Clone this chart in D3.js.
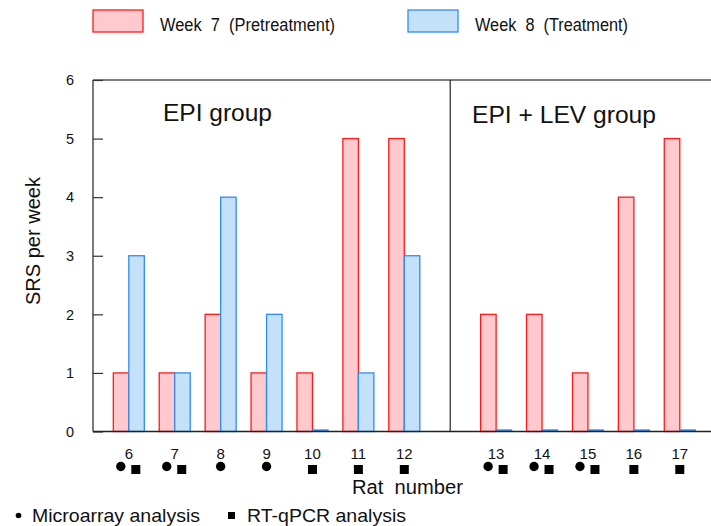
<!DOCTYPE html>
<html>
<head>
<meta charset="utf-8">
<script src="https://cdn.jsdelivr.net/npm/d3@7"></script>
<style>
  body { margin: 0; background: #fff; }
  svg { display: block; font-family: Arial, "Liberation Sans", sans-serif; }
  text { white-space: pre; }
</style>
</head>
<body>
<div id="chart"></div>
<script>
// SRS per week, pretreatment vs treatment, per rat

const rats = [6, 7, 8, 9, 10, 11, 12, null, 13, 14, 15, 16, 17]; // null = gap between groups
const week7 = [1, 1, 2, 1, 1, 5, 5, null, 2, 2, 1, 4, 5];
const week8 = [3, 1, 4, 2, 0, 1, 3, null, 0, 0, 0, 0, 0];
const microarrayRats = [6, 7, 8, 9, 13, 14, 15];
const qpcrRats = [6, 7, 10, 11, 12, 13, 14, 15, 16, 17];
const yTicks = [0, 1, 2, 3, 4, 5, 6];

const w = 711, h = 526;
const m = {top: 80, left: 93, right: 711, bottom: 431.5};
const red = '#ff1a1a', pink = '#ffc9cd', blue = '#2e8cf5', lightBlue = '#c5e1fa';

const svg = d3.select('#chart').append('svg')
  .attr('width', w).attr('height', h);

const x = d3.scaleLinear().domain([-0.78, 12.68]).range([m.left, m.right]);
const y = d3.scaleLinear().domain([0, 6]).range([m.bottom, m.top]);
const barW = 15.5;

const data = rats.map((r, i) => ({rat: r, i, w7: week7[i], w8: week8[i]})).filter(d => d.rat !== null);

// stretched text helper (reference font is wide)
function label(sel, x0, y0, size, txt, len) {
  const t = sel.append('text').attr('x', x0).attr('y', y0)
    .attr('font-size', size).attr('fill', '#111').text(txt);
  if (len) t.attr('textLength', len).attr('lengthAdjust', 'spacingAndGlyphs');
  return t;
}

// frame
svg.append('line').attr('x1', m.left).attr('x2', m.right).attr('y1', m.top).attr('y2', m.top)
  .attr('stroke', '#555').attr('stroke-width', 1.3);
svg.append('line').attr('x1', x(7)).attr('x2', x(7)).attr('y1', m.top).attr('y2', m.bottom)
  .attr('stroke', '#222').attr('stroke-width', 1.2);

// bars
svg.append('g').selectAll('rect')
  .data(data).enter().append('rect')
  .attr('x', d => x(d.i) - barW).attr('y', d => y(d.w7))
  .attr('width', barW).attr('height', d => Math.max(y(0) - y(d.w7), 1))
  .attr('fill', pink).attr('stroke', red).attr('stroke-width', 1.3);
svg.append('g').selectAll('rect')
  .data(data).enter().append('rect')
  .attr('x', d => x(d.i)).attr('y', d => d.w8 > 0 ? y(d.w8) : y(0) - 1.5)
  .attr('width', barW).attr('height', d => Math.max(y(0) - y(d.w8), 0.5))
  .attr('fill', lightBlue).attr('stroke', blue).attr('stroke-width', 1.3);

// axes
const yAxis = svg.append('g').attr('transform', `translate(${m.left},0)`)
  .call(d3.axisRight(y).tickValues(yTicks).tickSize(10).tickFormat(''));
yAxis.select('.domain').remove();
yAxis.selectAll('.tick line').attr('stroke', '#333').attr('stroke-width', 1.2);
svg.append('line').attr('x1', m.left).attr('x2', m.left).attr('y1', m.top).attr('y2', m.bottom)
  .attr('stroke', '#333').attr('stroke-width', 1.3);
svg.append('line').attr('x1', m.left).attr('x2', m.right).attr('y1', m.bottom).attr('y2', m.bottom)
  .attr('stroke', '#222').attr('stroke-width', 1.5);

svg.append('g').selectAll('text')
  .data(yTicks).enter().append('text')
  .attr('x', 70).attr('y', d => y(d)).attr('dy', '0.36em')
  .attr('text-anchor', 'middle').attr('font-size', 14.5).attr('fill', '#111')
  .text(d => d);

svg.append('text')
  .attr('transform', 'translate(40,241) rotate(-90)')
  .attr('text-anchor', 'middle').attr('font-size', 20).attr('fill', '#111')
  .attr('textLength', 128).attr('lengthAdjust', 'spacingAndGlyphs')
  .text('SRS per week');

// rat labels and analysis markers
svg.append('g').selectAll('text')
  .data(data).enter().append('text')
  .attr('x', d => x(d.i)).attr('y', 458.5)
  .attr('text-anchor', 'middle').attr('font-size', 15).attr('fill', '#111')
  .text(d => d.rat);

const both = r => microarrayRats.includes(r) && qpcrRats.includes(r);
svg.append('g').selectAll('circle')
  .data(data.filter(d => microarrayRats.includes(d.rat))).enter().append('circle')
  .attr('cx', d => x(d.i) + (both(d.rat) ? -8 : 0)).attr('cy', 466.5)
  .attr('r', 4.7).attr('fill', '#000');
svg.append('g').selectAll('rect')
  .data(data.filter(d => qpcrRats.includes(d.rat))).enter().append('rect')
  .attr('x', d => x(d.i) + (both(d.rat) ? 7 : 0) - 4.5).attr('y', 465)
  .attr('width', 9).attr('height', 9).attr('fill', '#000');

label(svg, 352, 494, 19.5, 'Rat  number', 111);

// group titles
label(svg, 163, 121, 24, 'EPI group', 109);
label(svg, 472, 123, 24, 'EPI + LEV group', 184);

// top legend
const legend = [
  {label: 'Week  7  (Pretreatment)', fill: pink, stroke: red, x: 93, len: 175},
  {label: 'Week  8  (Treatment)', fill: lightBlue, stroke: blue, x: 408, len: 153}
];
const lg = svg.append('g').selectAll('g').data(legend).enter().append('g');
lg.append('rect').attr('x', d => d.x).attr('y', 10).attr('width', 50).attr('height', 22)
  .attr('fill', d => d.fill).attr('stroke', d => d.stroke).attr('stroke-width', 1.3);
lg.append('text').attr('x', d => d.x + 67).attr('y', 31)
  .attr('font-size', 17.5).attr('fill', '#111')
  .attr('textLength', d => d.len).attr('lengthAdjust', 'spacingAndGlyphs')
  .text(d => d.label);

// bottom legend
svg.append('circle').attr('cx', 18.5).attr('cy', 515.5).attr('r', 2.8).attr('fill', '#000');
label(svg, 32, 521.5, 18.5, 'Microarray analysis', 168);
svg.append('rect').attr('x', 228).attr('y', 512).attr('width', 7).attr('height', 7).attr('fill', '#000');
label(svg, 247, 521.5, 18.5, 'RT-qPCR analysis', 159);
</script>
</body>
</html>
